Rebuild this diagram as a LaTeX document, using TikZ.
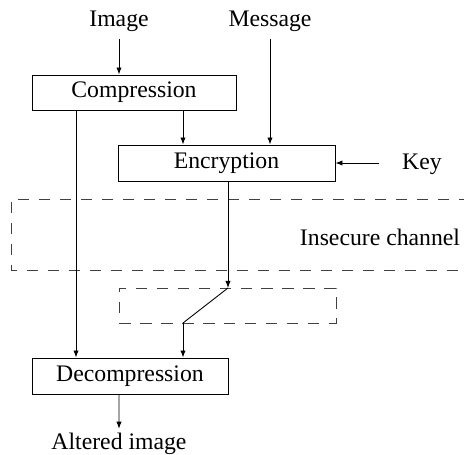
\documentclass[tikz,border=0pt]{standalone}
\usepackage{fontspec}
\setmainfont{Liberation Serif}
\usetikzlibrary{arrows.meta}

\begin{document}
\begin{tikzpicture}[
    x=0.02cm, y=-0.02cm,
    line width=0.5pt,
    font=\fontsize{13.5}{16}\selectfont,
    box/.style={rectangle, draw=black, inner sep=0pt},
    lab/.style={inner sep=4pt, black},
    arr/.style={-{Latex[length=4pt,width=3pt]}},
    chan/.style={draw=black!75, dash pattern=on 0.23cm off 0.19cm},
  ]
  \useasboundingbox (0,0) rectangle (464,455);

  \node[lab] (img) at (119,21.5) {Image};
  \node[lab] (msg) at (270,21.5) {Message};
  \node[box, minimum width=4.08cm, minimum height=0.7cm] (comp) at (134,92.5) {Compression};
  \node[box, minimum width=4.34cm, minimum height=0.72cm] (enc) at (226.5,163) {Encryption};
  \node[lab] (key) at (422,164) {Key};
  \coordinate (keyin) at (379,163);

  % insecure channel
  \draw[chan] (470,199) -- (11,199) -- (11,270) -- (470,270);
  \node[lab] (insec) at (380,237) {Insecure channel};

  \node[box, chan, minimum width=4.34cm, minimum height=0.7cm] (rcv) at (227.5,305.5) {};
  \coordinate (swin) at (228,288);
  \coordinate (swout) at (183,323);

  \node[box, minimum width=3.92cm, minimum height=0.72cm] (decomp) at (130,376) {Decompression};
  \node[lab, inner sep=2pt] (out) at (119,443.5) {Altered image};

  \draw[arr] (img.south) -- (img.south |- comp.north);
  \draw[arr] (msg.south) -- (msg.south |- enc.north);
  \draw[arr] ([xshift=0.98cm]comp.south) -- ([xshift=0.98cm]comp.south |- enc.north);
  \draw[arr] (keyin) -- (enc.east |- keyin);
  \draw[arr] ([xshift=-1.16cm]comp.south) -- ([xshift=-1.16cm]comp.south |- decomp.north);
  \draw[arr] (enc.south -| swin) -- (swin);
  \draw (swin) -- (swout);
  \draw[arr] (swout) -- (swout |- decomp.north);
  \draw[arr] ([xshift=-0.22cm]decomp.south) -- (out);
\end{tikzpicture}
\end{document}
